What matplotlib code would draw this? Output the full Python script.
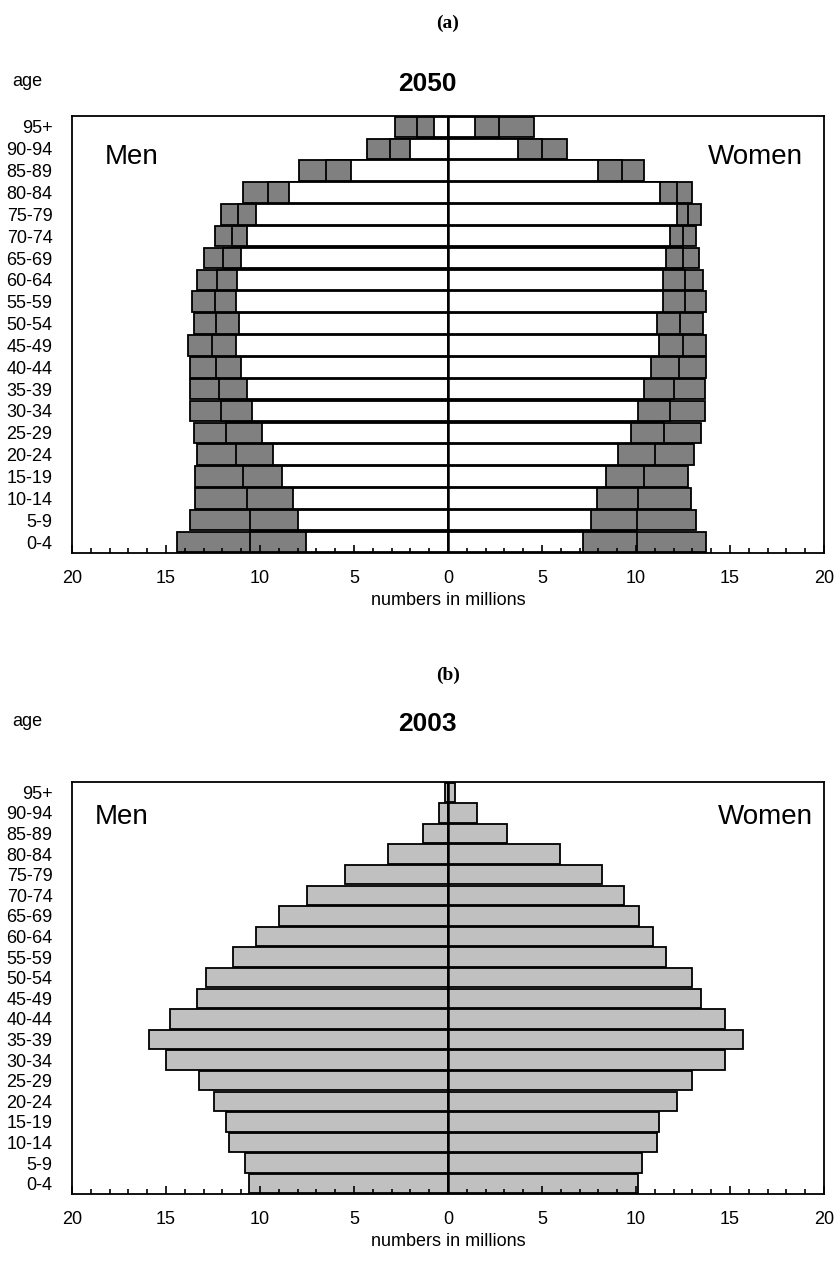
import matplotlib
matplotlib.use("Agg")
import matplotlib.pyplot as plt
from matplotlib.ticker import MultipleLocator, FuncFormatter

plt.rcParams['font.family'] = ['Liberation Sans', 'DejaVu Sans']

ages = ["0-4", "5-9", "10-14", "15-19", "20-24", "25-29", "30-34", "35-39",
        "40-44", "45-49", "50-54", "55-59", "60-64", "65-69", "70-74",
        "75-79", "80-84", "85-89", "90-94", "95+"]

# 2050 projection, cumulative boundaries of the three segments (millions)
men_2050_inner = [7.56, 7.99, 8.25, 8.84, 9.33, 9.92, 10.41, 10.70, 11.00, 11.26,
                  11.10, 11.28, 11.20, 11.00, 10.70, 10.22, 8.45, 5.15, 2.02, 0.74]
men_2050_mid = [10.52, 10.52, 10.70, 10.91, 11.28, 11.80, 12.06, 12.19, 12.35, 12.56,
                12.34, 12.42, 12.29, 11.97, 11.49, 11.17, 9.60, 6.50, 3.08, 1.66]
men_2050_outer = [14.42, 13.75, 13.44, 13.44, 13.35, 13.53, 13.75, 13.75, 13.75, 13.83,
                  13.53, 13.62, 13.35, 12.97, 12.38, 12.08, 10.93, 7.90, 4.29, 2.82]
women_2050_inner = [7.19, 7.60, 7.90, 8.38, 9.05, 9.72, 10.13, 10.41, 10.82, 11.21,
                    11.12, 11.41, 11.41, 11.60, 11.80, 12.17, 11.30, 7.97, 3.70, 1.43]
women_2050_mid = [10.06, 10.06, 10.13, 10.41, 11.00, 11.49, 11.80, 12.01, 12.29, 12.50,
                  12.36, 12.59, 12.59, 12.50, 12.50, 12.79, 12.20, 9.26, 4.98, 2.73]
women_2050_outer = [13.74, 13.18, 12.90, 12.77, 13.07, 13.48, 13.66, 13.66, 13.74, 13.74,
                    13.57, 13.74, 13.57, 13.34, 13.18, 13.44, 12.97, 10.43, 6.34, 4.59]

# 2003
men_2003 = [10.61, 10.79, 11.67, 11.80, 12.47, 13.23, 15.00, 15.89, 14.77, 13.35,
            12.86, 11.41, 10.22, 8.98, 7.51, 5.47, 3.21, 1.35, 0.48, 0.15]
women_2003 = [10.11, 10.33, 11.12, 11.21, 12.18, 12.98, 14.72, 15.69, 14.72, 13.44,
              12.98, 11.62, 10.91, 10.15, 9.37, 8.20, 5.95, 3.12, 1.56, 0.37]

W, H = 838, 1261
fig = plt.figure(figsize=(W / 100, H / 100), dpi=100)


def fx(px):
    return px / W


def fy(py):
    return 1 - py / H


def setup(ax):
    y = list(range(len(ages)))
    ax.set_xlim(-20, 20)
    ax.set_ylim(-0.5, len(ages) - 0.5)
    ax.set_yticks(y)
    ax.set_yticklabels(ages, fontsize=13)
    ax.tick_params(axis='y', length=0, pad=14)
    ax.xaxis.set_major_locator(MultipleLocator(5))
    ax.xaxis.set_minor_locator(MultipleLocator(1))
    ax.xaxis.set_major_formatter(FuncFormatter(lambda v, p: f"{abs(v):.0f}"))
    ax.tick_params(axis='x', which='major', direction='in', length=6, width=1.2,
                   labelsize=13, pad=12)
    ax.tick_params(axis='x', which='minor', direction='in', length=3.5, width=1.2)
    ax.xaxis.set_ticks_position('bottom')
    ax.set_xlabel("numbers in millions", fontsize=13, labelpad=4)
    for s in ax.spines.values():
        s.set_linewidth(1.3)
    ax.axvline(0, color='black', lw=1.8, zorder=5)
    return y


ew = 1.3
bh = 0.94

# (a) 2050
ax1 = fig.add_axes([fx(72), fy(553), fx(824 - 72), (553 - 116) / H])
y = setup(ax1)
ax1.barh(y, [-v for v in men_2050_outer], height=bh, color='#808080', edgecolor='black', lw=ew)
ax1.barh(y, [-v for v in men_2050_mid], height=bh, color='#808080', edgecolor='black', lw=ew)
ax1.barh(y, [-v for v in men_2050_inner], height=bh, color='white', edgecolor='black', lw=ew)
ax1.barh(y, women_2050_outer, height=bh, color='#808080', edgecolor='black', lw=ew)
ax1.barh(y, women_2050_mid, height=bh, color='#808080', edgecolor='black', lw=ew)
ax1.barh(y, women_2050_inner, height=bh, color='white', edgecolor='black', lw=ew)
fig.text(fx(105), fy(157), "Men", fontsize=20, ha='left', va='center')
fig.text(fx(803), fy(157), "Women", fontsize=20, ha='right', va='center')

# (b) 2003
ax2 = fig.add_axes([fx(72), fy(1194), fx(824 - 72), (1194 - 782) / H])
y = setup(ax2)
ax2.barh(y, [-v for v in men_2003], height=bh, color='#C0C0C0', edgecolor='black', lw=ew)
ax2.barh(y, women_2003, height=bh, color='#C0C0C0', edgecolor='black', lw=ew)
fig.text(fx(95), fy(817), "Men", fontsize=20, ha='left', va='center')
fig.text(fx(813), fy(817), "Women", fontsize=20, ha='right', va='center')

# headings
serif = ['Liberation Serif', 'DejaVu Serif']
fig.text(fx(448), fy(23), "(a)", fontsize=14, fontweight='bold', family=serif, ha='center', va='center')
fig.text(fx(12), fy(82), "age", fontsize=13, ha='left', va='center')
fig.text(fx(427), fy(84), "2050", fontsize=19, fontweight='bold', ha='center', va='center')
fig.text(fx(448), fy(675), "(b)", fontsize=14, fontweight='bold', family=serif, ha='center', va='center')
fig.text(fx(12), fy(722), "age", fontsize=13, ha='left', va='center')
fig.text(fx(427), fy(724), "2003", fontsize=19, fontweight='bold', ha='center', va='center')

fig.savefig("out.png", dpi=100)
